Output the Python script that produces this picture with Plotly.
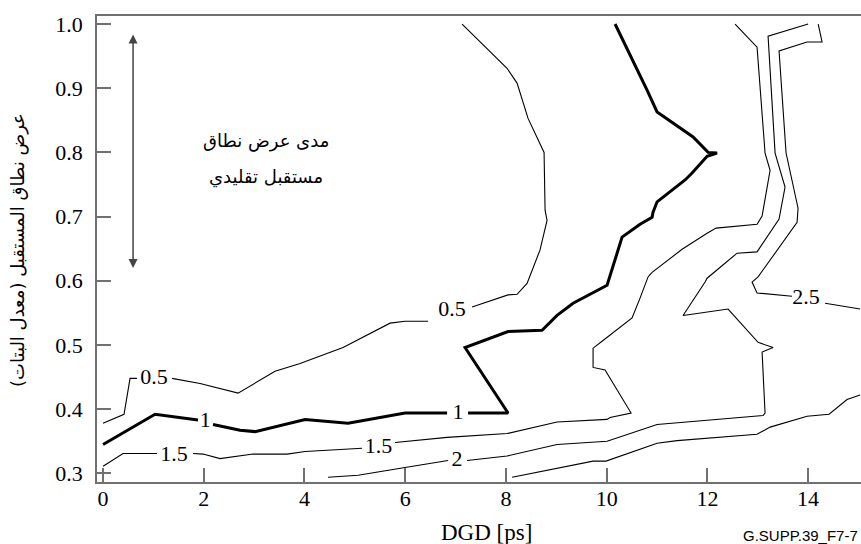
import plotly.graph_objects as go

N = None
# Contour 0.5 (thin)
c05_x = [0.0, 0.417, 0.536, 0.675, N, 1.370, 1.926, 2.681, 3.415, 3.912, 4.766, 5.699, 5.997, 6.454, N,
         7.327, 8.042, 8.221, 8.419, 8.677, 8.816, 8.777, 8.757, 8.439, 8.221, 8.022, 7.129]
c05_y = [0.378, 0.392, 0.448, 0.448, N, 0.448, 0.440, 0.425, 0.459, 0.471, 0.496, 0.534, 0.537, 0.537, N,
         0.559, 0.578, 0.579, 0.596, 0.648, 0.694, 0.710, 0.800, 0.853, 0.908, 0.931, 1.000]
# Contour 1 (thick)
c1_x = [0.0, 1.033, 1.886, N, 2.184, 2.720, 3.018, 4.011, 4.865, 5.997, 6.831, N, 7.248, 8.042, 7.188, 8.042,
        8.717, 9.015, 9.333, 10.008, 10.306, 10.663, 10.902, 10.921, 11.001, 11.557, 11.696, 11.994, 12.192,
        12.014, 11.716, 11.001, 10.802, 10.167]
c1_y = [0.345, 0.392, 0.383, N, 0.376, 0.367, 0.365, 0.384, 0.378, 0.394, 0.394, N, 0.394, 0.394, 0.496, 0.521,
        0.523, 0.546, 0.565, 0.593, 0.668, 0.688, 0.699, 0.707, 0.723, 0.757, 0.768, 0.794, 0.799,
        0.800, 0.824, 0.863, 0.897, 1.000]
# Contour 1.5
c15_x = [0.0, 0.397, 1.072, N, 1.787, 1.986, 2.323, 2.979, 3.654, 4.011, 5.143, N, 5.798, 6.831, 8.022, 9.015,
         10.008, 10.068, 10.485, 9.968, 9.730, 9.730, 9.928, 10.504, 10.663, 10.822, 10.902, 11.497, 11.994,
         12.173, 12.986, 13.086, 13.245, 13.145, 12.986, 12.550]
c15_y = [0.311, 0.331, 0.331, N, 0.331, 0.330, 0.323, 0.330, 0.330, 0.334, 0.339, N, 0.348, 0.356, 0.362, 0.380,
         0.384, 0.387, 0.394, 0.461, 0.465, 0.495, 0.507, 0.542, 0.573, 0.606, 0.613, 0.649, 0.674,
         0.682, 0.688, 0.701, 0.772, 0.799, 0.964, 1.000]
# Contour 2
c2_x = [4.468, 5.064, 5.997, 6.851, N, 7.228, 8.022, 9.015, 10.008, 11.001, 13.105, 13.145, 13.086, 13.304,
        13.006, 12.411, 11.517, 11.954, 11.994, 12.589, 12.986, 13.423, 13.542, 13.344, 13.205, 14.0]
c2_y = [0.294, 0.297, 0.309, 0.320, N, 0.320, 0.327, 0.345, 0.350, 0.376, 0.390, 0.394, 0.489, 0.496,
        0.504, 0.556, 0.546, 0.598, 0.604, 0.643, 0.645, 0.696, 0.746, 0.799, 0.981, 1.000]
# Contour 2.5 (upper right, labelled)
c25_x = [14.2, 14.277, 13.979, 13.423, 13.562, 13.800, 13.781, 13.006, 12.887, 12.986, 13.681, N, 14.337, 15.032]
c25_y = [1.000, 0.972, 0.972, 0.958, 0.799, 0.713, 0.691, 0.606, 0.598, 0.581, 0.576, N, 0.565, 0.556]
# Lowest contour (unlabelled)
c3_x = [8.122, 9.730, 9.988, 11.001, 11.398, 12.986, 13.245, 13.979, 14.416, 14.773, 15.032]
c3_y = [0.294, 0.319, 0.319, 0.347, 0.351, 0.361, 0.372, 0.389, 0.392, 0.415, 0.422]

# Contour labels
lab_x = [1.01, 6.93, 2.03, 7.05, 1.41, 5.47, 7.03, 13.96]
lab_y = [0.448, 0.553, 0.380, 0.394, 0.328, 0.341, 0.320, 0.573]
lab_t = ["0.5", "0.5", "1", "1", "1.5", "1.5", "2", "2.5"]

x_ticks = [0, 2, 4, 6, 8, 10, 12, 14]
y_ticks = [0.3, 0.4, 0.5, 0.6, 0.7, 0.8, 0.9, 1.0]

# Receiver bandwidth range arrow
arrow_x = 0.596
arrow_y = [0.620, 0.986]

SERIF = "Liberation Serif"
ARAB = "DejaVu Sans"

fig = go.Figure()
for xs, ys, w in [(c05_x, c05_y, 1.1), (c1_x, c1_y, 3), (c15_x, c15_y, 1.1),
                  (c2_x, c2_y, 1.1), (c25_x, c25_y, 1.1), (c3_x, c3_y, 1.1)]:
    fig.add_trace(go.Scatter(x=xs, y=ys, mode="lines", line=dict(color="black", width=w),
                             connectgaps=False, hoverinfo="skip", showlegend=False))

fig.add_trace(go.Scatter(x=lab_x, y=lab_y, text=lab_t, mode="text", textposition="middle center",
                         textfont=dict(family=SERIF, size=22, color="black"), showlegend=False))

axcol = "#707070"
fig.update_layout(
    width=861, height=544,
    margin=dict(l=97, r=0, t=16, b=62),
    paper_bgcolor="white", plot_bgcolor="white",
    font=dict(family=SERIF, size=22, color="black"),
    xaxis=dict(range=[-0.12, 15.05], tickvals=x_ticks, ticks="inside", ticklen=14, tickwidth=1.5,
               tickcolor=axcol, showline=True, linecolor=axcol, linewidth=1.5, mirror=True,
               showgrid=False, zeroline=False, ticklabelstandoff=-4,
               tickfont=dict(family=SERIF, size=22, color="black")),
    yaxis=dict(range=[0.2865, 1.0125], tickvals=y_ticks, tickformat=".1f", ticks="inside", ticklen=14,
               tickwidth=1.5, tickcolor=axcol, showline=True, linecolor=axcol, linewidth=1.5,
               showgrid=False, zeroline=False, ticklabelstandoff=8,
               tickfont=dict(family=SERIF, size=22, color="black")),
    annotations=[
        dict(x=arrow_x, y=arrow_y[0], ax=arrow_x, ay=arrow_y[1], xref="x", yref="y", axref="x", ayref="y",
             text="", showarrow=True, arrowside="end+start", arrowhead=2, arrowsize=1.2, arrowwidth=1.5,
             arrowcolor="#444444", standoff=0, startstandoff=0),
        dict(x=3.24, y=0.817, xref="x", yref="y", text="مدى عرض نطاق", showarrow=False,
             font=dict(family=ARAB, size=18, color="black")),
        dict(x=3.24, y=0.762, xref="x", yref="y", text="مستقبل تقليدي", showarrow=False,
             font=dict(family=ARAB, size=18, color="black")),
        dict(x=0.510, y=-0.109, xref="paper", yref="paper", text="DGD [ps]", showarrow=False,
             yanchor="middle", font=dict(family=SERIF, size=23, color="black")),
        dict(x=-0.1034, y=0.498, xref="paper", yref="paper", text="عرض نطاق المستقبل (معدل البتات)",
             textangle=-90, showarrow=False, xanchor="center", yanchor="middle",
             font=dict(family=ARAB, size=18, color="black")),
        dict(x=0.9987, y=-0.114, xref="paper", yref="paper", text="G.SUPP.39_F7-7", showarrow=False,
             xanchor="right", yanchor="middle", font=dict(family="Liberation Sans", size=15, color="black")),
    ],
)

fig.write_html("out.html")
